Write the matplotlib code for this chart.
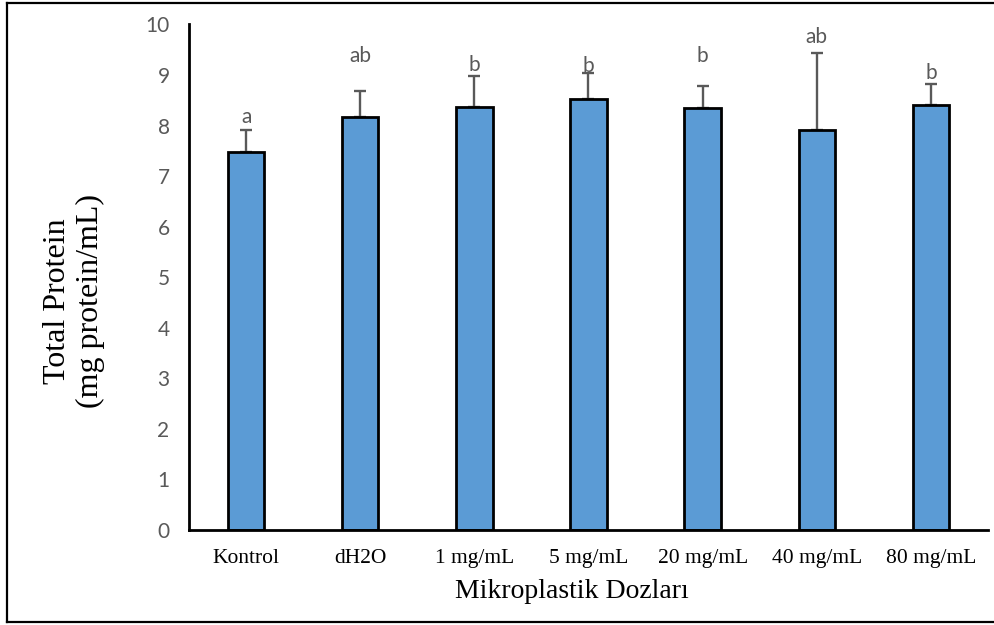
import numpy as np
import matplotlib.pyplot as plt
from matplotlib.lines import Line2D

# Total protein per microplastic dose group
groups = ["Kontrol", "dH2O", "1 mg/mL", "5 mg/mL", "20 mg/mL", "40 mg/mL", "80 mg/mL"]
protein = [7.48, 8.17, 8.37, 8.52, 8.35, 7.92, 8.41]
protein_sd = [0.44, 0.51, 0.62, 0.53, 0.44, 1.51, 0.42]
letters = ["a", "ab", "b", "b", "b", "ab", "b"]
letter_y = [8.06, 9.25, 9.09, 9.07, 9.25, 9.64, 8.93]

serif = "Liberation Serif"
sans = "Lato"
gray = "#595959"

fig = plt.figure(figsize=(9.95, 6.25), dpi=100)
ax = fig.add_axes([189 / 995, 95 / 625, 799 / 995, 505.5 / 625])

x = np.arange(len(groups))
ax.bar(x, protein, width=0.32, color="#5B9BD5", edgecolor="black",
       linewidth=2.0, zorder=2)
ax.errorbar(x, protein, yerr=[np.zeros(len(x)), protein_sd], fmt="none",
            ecolor=gray, elinewidth=1.7, capsize=4.3, capthick=1.7, zorder=1)

for xi, lab, ly in zip(x, letters, letter_y):
    ax.text(xi, ly, lab, ha="center", va="baseline", color=gray,
            fontsize=15, family=sans)

ax.set_xlim(-0.5, len(groups) - 0.5)
ax.set_ylim(0, 10)
ax.set_yticks(range(0, 11))
ax.set_xticks(x)
ax.set_xticklabels(groups, family=serif, fontsize=15.5)
for t in ax.get_yticklabels():
    t.set_family(sans)
    t.set_fontsize(15)
    t.set_color(gray)
ax.tick_params(axis="y", length=0, pad=14)
ax.tick_params(axis="x", length=0, pad=14)

for side in ["top", "right"]:
    ax.spines[side].set_visible(False)
for side in ["left", "bottom"]:
    ax.spines[side].set_linewidth(2.0)
    ax.spines[side].set_color("black")

fig.text(572 / 995, 1 - 592 / 625, "Mikroplastik Dozları", ha="center",
         va="center", family=serif, fontsize=20)
fig.text(74 / 995, 1 - 301 / 625, "Total Protein\n(mg protein/mL)",
         rotation=90, ha="center", va="center", multialignment="center",
         family=serif, fontsize=23, linespacing=1.15)

# outer frame (left, top, bottom)
fx0, fx1 = 7 / 995, 1.0
fy0, fy1 = 1 - 622 / 625, 1 - 3 / 625
for xs, ys in [([fx0, fx0], [fy0, fy1]), ([fx0, fx1], [fy1, fy1]),
               ([fx0, fx1], [fy0, fy0])]:
    fig.add_artist(Line2D(xs, ys, transform=fig.transFigure,
                          color="black", linewidth=1.6))

fig.savefig("out.png", dpi=100)
